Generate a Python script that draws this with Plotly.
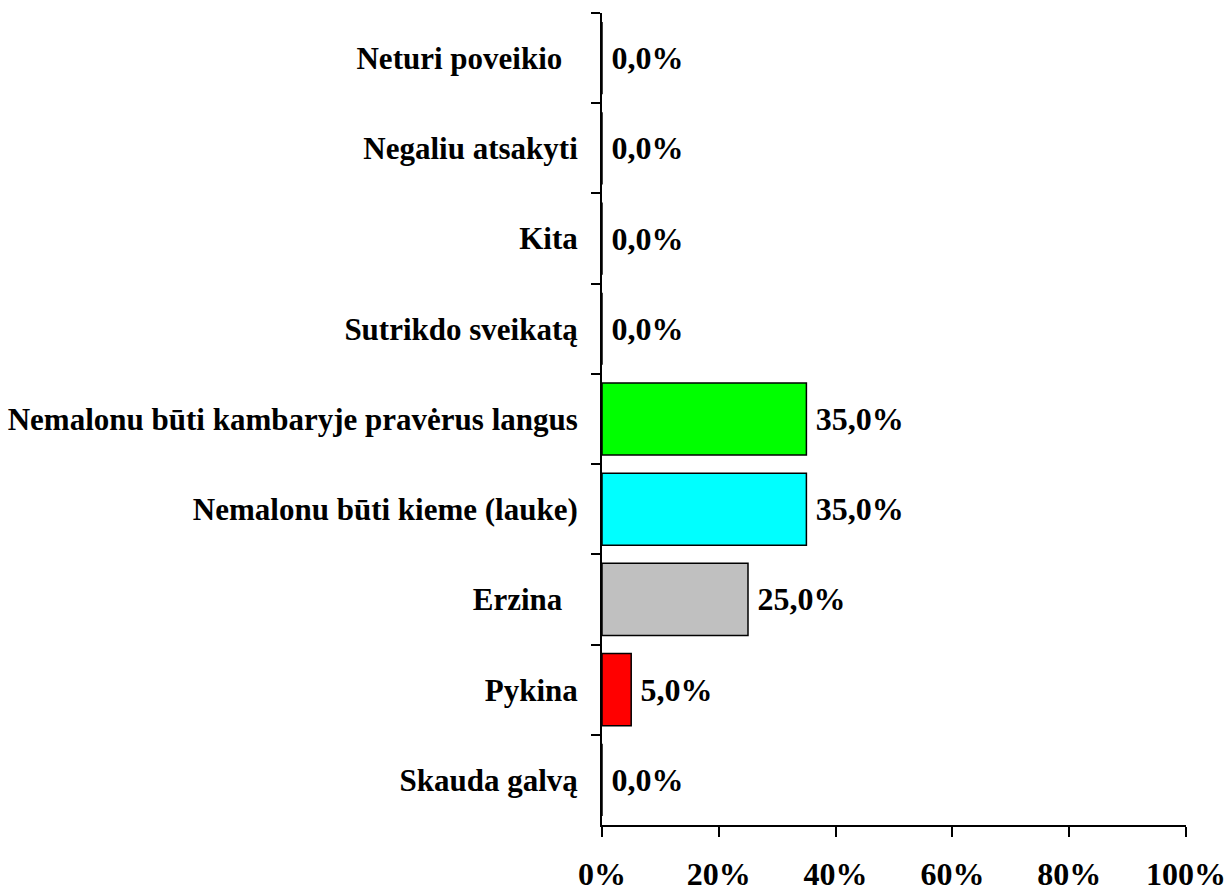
import plotly.graph_objects as go

# Survey answers, listed top to bottom as shown
categories = [
    "Neturi poveikio\u00a0\u00a0",
    "Negaliu atsakyti",
    "Kita",
    "Sutrikdo sveikatą",
    "Nemalonu būti kambaryje pravėrus langus",
    "Nemalonu būti kieme (lauke)",
    "Erzina\u00a0\u00a0",
    "Pykina",
    "Skauda galvą",
]
shares = [0.0, 0.0, 0.0, 0.0, 35.0, 35.0, 25.0, 5.0, 0.0]
bar_colors = ["#FFFFFF", "#FFFFFF", "#FFFFFF", "#FFFFFF",
              "#00FF00", "#00FFFF", "#C0C0C0", "#FF0000", "#FFFFFF"]
x_ticks = [0, 20, 40, 60, 80, 100]

# value labels with a decimal comma, offset slightly from the bar end
labels = ["\u2009" + f"{v:.1f}".replace(".", ",") + "%" for v in shares]

FONT = "Liberation Serif, Times New Roman, serif"

fig = go.Figure(
    go.Bar(
        x=shares,
        y=categories,
        orientation="h",
        marker=dict(color=bar_colors, line=dict(color="black", width=1.5)),
        text=labels,
        textposition="outside",
        textfont=dict(family=FONT, size=32, color="black", weight="bold"),
        cliponaxis=False,
        width=0.8,
    )
)

fig.update_layout(
    width=1229,
    height=891,
    margin=dict(l=602, r=43, t=13, b=66, autoexpand=False),
    paper_bgcolor="white",
    plot_bgcolor="white",
    showlegend=False,
    font=dict(family=FONT, size=30, color="black", weight="bold"),
)

fig.update_xaxes(
    range=[0, 100],
    tickvals=x_ticks,
    ticktext=[f"{t}%" for t in x_ticks],
    showline=True,
    linecolor="black",
    linewidth=2,
    ticks="outside",
    ticklen=10,
    tickwidth=2,
    tickcolor="black",
    showgrid=False,
    zeroline=False,
    automargin=False,
    ticklabelstandoff=10,
    tickfont=dict(family=FONT, size=32, color="black", weight="bold"),
)

fig.update_yaxes(
    categoryorder="array",
    categoryarray=categories,
    autorange="reversed",
    showline=True,
    linecolor="black",
    linewidth=2,
    ticks="outside",
    tickson="boundaries",
    ticklen=9,
    tickwidth=2,
    tickcolor="black",
    showgrid=False,
    zeroline=False,
    automargin=False,
    ticklabelstandoff=16,
    tickfont=dict(family=FONT, size=31, color="black", weight="bold"),
)

fig.write_html("out.html")
